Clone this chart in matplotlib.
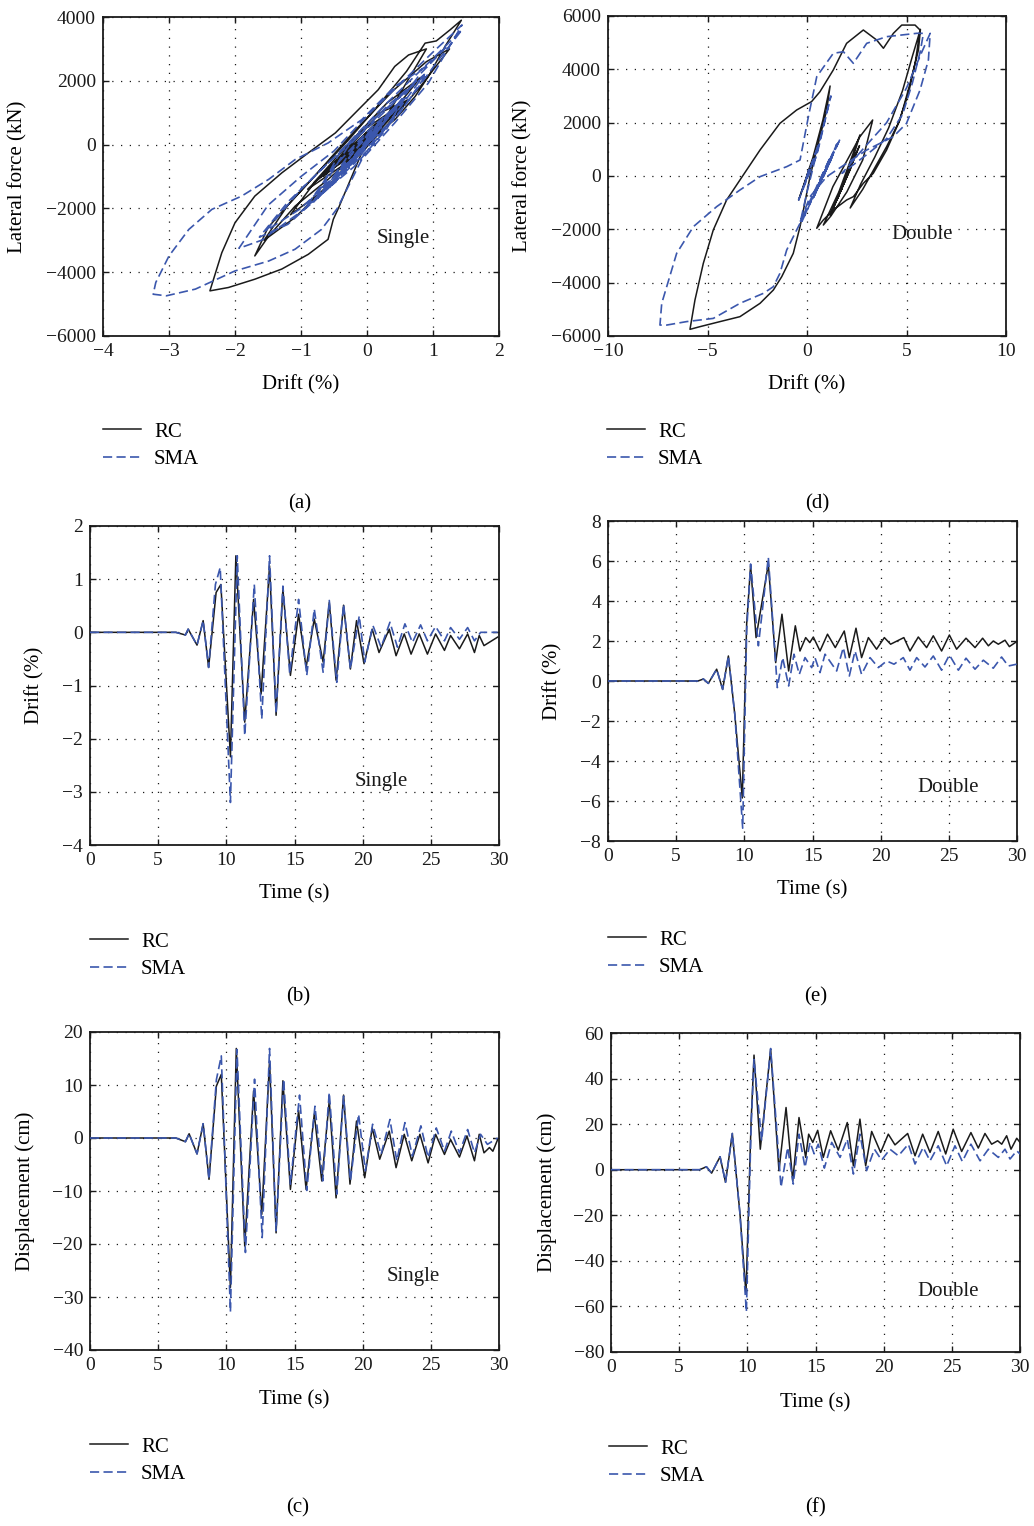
import matplotlib
matplotlib.use('Agg')
import matplotlib.pyplot as plt

plt.rcParams['font.family'] = ['Liberation Serif', 'DejaVu Serif']
plt.rcParams['font.size'] = 12

BLUE = '#3b57ad'
BLACK = '#1a1a1a'
W, H = 1034, 1526

# ---------------- (a) hysteresis, single ----------------
rc_a_drift = [0, 0.06, -0.24, 0.22, -0.66, 0.3, 0.9,
              0.63, 0.42, 0.17, -0.08, -0.48, -0.89, -1.29, -1.70, -2.0, -2.2, -2.38,
              -2.10, -1.70, -1.29, -0.89, -0.59, -0.51, -0.43, -0.08, 0.17, 0.42, 0.73, 0.93, 1.18, 1.43,
              1.26, 1.05, 0.88, 0.6, 0.2, -0.3, -0.8, -1.2, -1.5, -1.70,
              -1.49, -1.09, -0.59, -0.08, 0.3, 0.62,
              0.2, -0.3, -0.8, -1.16,
              -0.7, -0.2, 0.3, 0.8, 1.25,
              0.9, 0.4, -0.2, -0.8, -1.2, -1.56,
              -1.1, -0.5, 0.1, 0.81,
              0.3, -0.2, -0.81, -0.3, 0.34, -0.1, -0.66, -0.2, 0.25, -0.1, -0.56, 0.0, 0.56,
              0.1, -0.4, -0.9, -0.4, 0.1, 0.51, 0.0, -0.69, -0.2, 0.22, -0.2, -0.59, -0.2, 0.06,
              -0.38, 0.06, -0.44, -0.03, -0.41, -0.09]
rc_a_force = [0, 150, -550, 550, -1500, 900, 3000,
              2810, 2450, 1720, 1200, 365, -260, -885, -1615, -2450, -3390, -4585,
              -4480, -4220, -3900, -3440, -2970, -2340, -1980, -260, 365, 780, 1510, 2140, 3070, 3900,
              3600, 3250, 3180, 2300, 1300, 100, -1000, -1900, -2600, -3490,
              -2870, -1930, -1090, -160, 700, 1400,
              1000, -150, -1200, -2200,
              -1500, -500, 600, 1800, 3000,
              2600, 1700, 400, -1000, -1900, -3000,
              -2300, -1100, 300, 2100,
              1300, 200, -1200, -400, 1000, 400, -1000, -200, 700, 200, -800, 100, 1300,
              600, -400, -1400, -700, 300, 1200, 400, -1000, -300, 700, 0, -800, -200, 300,
              -500, 400, -600, 200, -500, 100]
sma_a_drift = [0, 0.06, -0.24, 0.22, -0.66, 0.3, 0.8, 1.22,
               0.93, 0.42, -0.08, -0.59, -1.09, -1.49, -1.9, -2.35, -2.7, -3.0, -3.2, -3.24,
               -3.04, -2.6, -2.0, -1.49, -1.09, -0.69, -0.45, -0.08, 0.42, 0.93, 1.2, 1.44,
               1.0, 0.5, 0.0, -0.5, -1.0, -1.5, -1.94,
               -1.6, -1.0, -0.5, 0.0, 0.5, 0.9,
               0.5, 0.0, -0.6, -1.2, -1.63,
               -1.2, -0.6, 0.0, 0.6, 1.1, 1.44,
               0.9, 0.3, -0.4, -1.0, -1.53,
               -1.0, -0.4, 0.3, 0.87, 0.3, -0.3, -0.78, -0.2, 0.3, 0.62,
               0.1, -0.4, -0.81, -0.3, 0.44, -0.2, -0.75, -0.2, 0.6, 0.0,
               -0.5, -0.94, -0.4, 0.1, 0.53, 0.0, -0.69, -0.1, 0.31, -0.2,
               -0.56, 0.13, -0.28, 0.19, -0.28, 0.15, -0.17, 0.0]
sma_a_force = [0, 150, -550, 550, -1500, 800, 2200, 3100,
               2500, 1820, 780, 50, -470, -1090, -1615, -2030, -2660, -3490, -4320, -4690,
               -4740, -4530, -3960, -3650, -3280, -2660, -2000, -470, 680, 1930, 2900, 3750,
               2900, 1900, 900, -200, -1000, -1900, -3250,
               -3000, -2100, -1200, -100, 1000, 2200,
               1500, 500, -600, -1800, -2900,
               -2500, -1400, -200, 1300, 2700, 3600,
               2500, 1300, -200, -1400, -2700,
               -2000, -800, 600, 2200, 1200, -100, -1700, -700, 500, 1700,
               800, -200, -1800, -700, 1200, -100, -1700, -400, 1500, 400,
               -700, -2000, -900, 300, 1400, 300, -1500, -300, 900, -200,
               -1300, 500, -700, 600, -700, 500, -400, 0]

# ---------------- (d) hysteresis, double ----------------
rc_d_drift = [0, 0.1, -0.12, 0.59, -0.42, 0.3, 0.8, 1.16,
              0.99, 0.57, 0.15, -0.18, -0.35, -0.69, -1.27, -1.69, -2.36, -3.37, -4.37, -5.38, -5.88,
              -5.63, -5.21, -4.71, -4.04, -3.37, -2.36, -1.36, -0.52, 0.23, 0.65, 1.32, 1.99, 2.83,
              3.5, 3.84, 4.34, 4.76, 5.43, 5.68,
              5.45, 5.1, 4.6, 4.0, 3.4, 2.8, 2.17, 2.7, 3.4, 4.1, 4.8, 5.3, 5.7,
              5.6, 5.18, 4.67, 4.0, 3.33, 2.83, 2.33, 1.99, 1.32, 0.82, 0.49,
              1.3, 2.66, 3.3, 2.8, 2.0, 1.2, 0.82, 1.6, 2.66, 2.2,
              1.5, 2.2, 1.9, 2.2, 1.5, 2.34, 1.67, 2.5, 1.17, 2.64,
              1.17, 2.17, 1.59, 2.17, 1.84, 2.17, 1.5, 2.2, 1.67, 2.26,
              1.5, 2.3, 1.59, 2.14, 1.67, 2.14, 1.8, 2.0, 1.97]
rc_d_force = [0, 250, -300, 1200, -900, 700, 2100, 3375,
              2475, 1225, -25, -1275, -1900, -2900, -3775, -4275, -4775, -5275, -5460, -5650, -5750,
              -4650, -3275, -2025, -900, -150, 975, 1975, 2475, 2790, 3160, 3975, 4975, 5475,
              5100, 4790, 5350, 5660, 5660, 5475,
              4300, 3100, 2000, 1100, 300, -500, -1200, -300, 700, 1800, 3200, 4500, 5500,
              4725, 3475, 2100, 975, 100, -275, -775, -900, -1275, -1650, -1960,
              -400, 1475, 2100, 600, -600, -1500, -1840, -600, 1540, 400,
              -900, 300, -200, 400, -900, 600, -600, 900, -1480, 1140,
              -1450, 300, -730, 300, -300, 350, -900, 400, -600, 500,
              -850, 550, -700, 250, -600, 250, -350, 0, -50]
sma_d_drift = [0, 0.1, -0.12, 0.59, -0.42, 0.5, 1.2,
               0.6, 0.0, -0.35, -0.52, -1.02, -1.36, -1.69, -2.19, -3.37, -4.71, -6.05, -7.05, -7.39,
               -7.3, -6.55, -5.71, -4.54, -3.37, -2.36, -1.02, -0.35, 0.07, 0.49, 1.32, 1.83, 2.33,
               3.0, 4.0, 5.51, 5.85,
               5.7, 5.3, 4.8, 4.0, 3.0, 1.76, 2.8, 4.0, 5.0, 5.8, 6.19,
               6.1, 5.68, 5.0, 4.34, 3.0, 1.99, 0.99, 0.15, -0.33,
               1.17, -0.25, 1.34, 0.33, 1.17, 0.67, 1.17, 0.42, 1.34, 0.5,
               1.67, 0.25, 1.5, 0.33, 1.17, 0.67, 1.0, 0.84, 1.17, 0.54,
               1.17, 0.7, 1.25, 0.54, 1.3, 0.54, 1.14, 0.59, 1.04, 0.64,
               1.2, 0.75, 0.84]
sma_d_force = [0, 250, -300, 1200, -900, 800, 3000,
               1200, -600, -1775, -2025, -2775, -3650, -4150, -4400, -4775, -5340, -5460, -5590, -5590,
               -4775, -2900, -1900, -1150, -525, -25, 350, 600, 2225, 3725, 4600, 4660, 4225,
               4975, 5225, 5350, 5350,
               4700, 3500, 2300, 1400, 800, 100, 1000, 2000, 3300, 4700, 5350,
               4350, 3225, 1975, 1475, 975, 475, -25, -775, -1700,
               700, -1700, 900, -800, 600, -200, 600, -600, 900, -500,
               1400, -900, 1200, -800, 600, -200, 300, 0, 600, -400,
               600, -100, 700, -400, 800, -400, 500, -300, 400, -200,
               600, -100, 0]

# ---------------- (b) drift time history, single ----------------
rc_b_time = [0, 6.3, 7.0, 7.2, 7.85, 8.3, 8.7, 9.25, 9.6,
             10.3, 10.7, 11.35, 12.0, 12.55, 13.17, 13.65, 14.15, 14.7,
             15.3, 15.85, 16.45, 17.1, 17.55, 18.05, 18.6, 19.1, 19.55,
             20.1, 20.7, 21.2, 21.95, 22.45, 23.05, 23.55, 24.15, 24.75,
             25.35, 26.0, 26.45, 27.1, 27.7, 28.2, 28.55, 28.9, 29.9]
rc_b_drift = [0, 0, -0.05, 0.06, -0.24, 0.22, -0.66, 0.75, 0.9,
              -2.34, 1.44, -1.69, 0.62, -1.16, 1.25, -1.56, 0.81, -0.81,
              0.34, -0.66, 0.25, -0.56, 0.56, -0.9, 0.51, -0.69, 0.22,
              -0.59, 0.06, -0.38, 0.06, -0.44, -0.03, -0.41, -0.03, -0.41,
              -0.03, -0.34, -0.06, -0.31, -0.03, -0.38, -0.06, -0.25, -0.09]
sma_b_time = [0, 6.3, 7.0, 7.2, 7.85, 8.3, 8.7, 9.2, 9.55,
              10.3, 10.8, 11.35, 12.05, 12.6, 13.17, 13.65, 14.15, 14.65,
              15.3, 15.9, 16.45, 17.1, 17.55, 18.1, 18.6, 19.1, 19.75,
              20.15, 20.75, 21.35, 22.0, 22.55, 23.1, 23.65, 24.25, 24.75,
              25.35, 26.0, 26.45, 27.1, 27.7, 28.2, 28.65, 29.9]
sma_b_drift = [0, 0, -0.05, 0.06, -0.24, 0.22, -0.66, 0.9, 1.22,
               -3.2, 1.44, -1.94, 0.9, -1.63, 1.44, -1.53, 0.87, -0.78,
               0.62, -0.81, 0.44, -0.75, 0.6, -0.94, 0.53, -0.69, 0.31,
               -0.56, 0.13, -0.28, 0.19, -0.28, 0.16, -0.19, 0.14, -0.16,
               0.11, -0.16, 0.09, -0.13, 0.09, -0.16, 0, 0]

# ---------------- (c) displacement time history, single ----------------
rc_c_time = [0, 6.3, 7.0, 7.27, 7.85, 8.3, 8.73, 9.27, 9.63,
             10.3, 10.73, 11.35, 12.0, 12.6, 13.17, 13.65, 14.15, 14.7,
             15.3, 15.85, 16.45, 17.0, 17.55, 18.05, 18.6, 19.07, 19.55,
             20.15, 20.7, 21.25, 21.95, 22.45, 23.05, 23.6, 24.2, 24.8,
             25.35, 26.0, 26.45, 27.1, 27.65, 28.2, 28.55, 28.9, 29.3, 29.55, 29.9]
rc_c_disp = [0, 0, -0.7, 0.8, -3.0, 2.7, -7.8, 9.8, 12.0,
             -28.2, 16.9, -20.4, 8.9, -14.4, 14.5, -17.9, 10.8, -9.7,
             5.2, -9.7, 4.5, -8.1, 7.0, -11.3, 8.1, -8.7, 3.2,
             -7.5, 1.9, -4.0, 1.3, -5.6, 0.7, -4.3, 0.7, -4.7,
             0.7, -3.1, -0.3, -3.6, 0.4, -4.3, 0.7, -2.8, -1.8, -2.5, -0.3]
sma_c_time = [0, 6.3, 7.0, 7.27, 7.85, 8.3, 8.73, 9.27, 9.63,
              10.3, 10.78, 11.4, 12.07, 12.63, 13.17, 13.65, 14.2, 14.7,
              15.37, 15.9, 16.5, 17.07, 17.55, 18.1, 18.6, 19.1, 19.7,
              20.2, 20.73, 21.35, 22.0, 22.5, 23.1, 23.65, 24.27, 24.8,
              25.4, 26.0, 26.5, 27.1, 27.7, 28.2, 28.65, 29.15, 29.9]
sma_c_disp = [0, 0, -0.7, 0.8, -3.0, 2.7, -7.8, 11.0, 15.5,
              -32.8, 16.7, -21.6, 11.1, -18.8, 16.9, -17.5, 11.1, -8.7,
              8.1, -9.9, 6.0, -8.1, 8.6, -10.6, 7.9, -8.1, 4.5,
              -6.2, 2.6, -3.1, 3.5, -4.3, 2.9, -3.4, 2.3, -3.7,
              1.9, -2.5, 1.3, -2.8, 1.6, -2.8, 0.7, -1.2, 0]

# ---------------- (e) drift time history, double ----------------
rc_e_time = [0, 6.6, 7.0, 7.36, 7.97, 8.41, 8.83, 9.3, 9.85, 10.17,
             10.46, 10.56, 10.86, 11.76, 12.3, 12.76, 13.25, 13.74, 14.08, 14.5,
             14.8, 15.06, 15.55, 16.1, 16.67, 17.33, 17.7, 18.19, 18.6, 19.1,
             19.7, 20.27, 20.73, 21.7, 22.15, 22.76, 23.37, 23.86, 24.47, 25.04,
             25.57, 26.26, 26.92, 27.48, 27.9, 28.26, 28.63, 29.12, 29.44, 29.98]
rc_e_drift = [0, 0, 0.1, -0.12, 0.59, -0.42, 1.25, -1.67, -5.85, 2.84,
              5.77, 4.85, 2.17, 5.85, 0.92, 3.34, 0.5, 2.76, 1.5, 2.17,
              1.92, 2.2, 1.5, 2.34, 1.67, 2.5, 1.17, 2.64, 1.17, 2.17,
              1.59, 2.17, 1.84, 2.17, 1.5, 2.2, 1.67, 2.26, 1.5, 2.3,
              1.59, 2.14, 1.67, 2.14, 1.76, 2.0, 1.84, 2.04, 1.72, 1.97]
sma_e_time = [0, 6.6, 7.0, 7.36, 7.97, 8.41, 8.83, 9.3, 9.88, 10.17,
              10.46, 11.03, 11.76, 12.42, 12.81, 13.25, 13.64, 14.03, 14.45, 14.94,
              15.18, 15.55, 15.92, 16.77, 17.26, 17.7, 18.12, 18.6, 19.22, 19.83,
              20.44, 20.98, 21.66, 22.15, 22.64, 23.25, 23.86, 24.47, 25.04, 25.7,
              26.26, 26.92, 27.53, 28.26, 28.87, 29.36, 29.98]
sma_e_drift = [0, 0, 0.1, -0.12, 0.59, -0.42, 1.25, -1.67, -7.36, 2.5,
               5.85, 1.76, 6.19, -0.33, 1.17, -0.25, 1.34, 0.33, 1.17, 0.67,
               1.17, 0.42, 1.34, 0.5, 1.67, 0.25, 1.5, 0.33, 1.17, 0.67,
               1.0, 0.84, 1.17, 0.54, 1.17, 0.7, 1.25, 0.54, 1.3, 0.54,
               1.14, 0.59, 1.04, 0.64, 1.2, 0.75, 0.84]

# ---------------- (f) displacement time history, double ----------------
rc_f_time = [0, 6.5, 7.0, 7.38, 8.0, 8.4, 8.9, 9.46, 9.9, 10.27,
             10.49, 10.95, 11.71, 12.32, 12.84, 13.33, 13.79, 14.28, 14.5, 14.8,
             15.16, 15.57, 16.11, 16.67, 17.33, 17.78, 18.26, 18.68, 19.12, 19.78,
             20.34, 20.83, 21.76, 22.3, 22.86, 23.4, 24.0, 24.55, 25.1, 25.72,
             26.4, 26.94, 27.43, 27.92, 28.36, 28.66, 29.02, 29.34, 29.76, 30.0]
rc_f_disp = [0, 0, 1.3, -1.5, 5.7, -5.5, 15.9, -19.4, -54.4, 20.0,
             50.3, 9.0, 52.8, -0.4, 27.3, -4.8, 22.9, 5.4, 15.6, 12.0,
             17.3, 5.4, 17.1, 8.6, 20.7, 1.7, 22.2, 1.7, 16.8, 7.6,
             15.6, 10.9, 15.9, 6.1, 15.6, 7.6, 16.8, 6.9, 17.8, 8.0,
             16.3, 9.5, 15.9, 11.2, 12.7, 11.2, 14.9, 9.0, 13.8, 12.0]
sma_f_time = [0, 6.5, 7.0, 7.38, 8.0, 8.4, 8.9, 9.46, 9.93, 10.27,
              10.49, 11.05, 11.71, 12.47, 12.96, 13.37, 13.79, 14.23, 14.6, 14.9,
              15.2, 15.65, 16.19, 16.8, 17.33, 17.78, 18.26, 18.75, 19.32, 19.85,
              20.46, 21.08, 21.81, 22.3, 22.9, 23.4, 24.0, 24.62, 25.23, 25.77,
              26.4, 27.07, 27.68, 28.41, 28.9, 29.27, 29.76, 30.0]
sma_f_disp = [0, 0, 1.3, -1.5, 5.7, -5.5, 15.9, -19.4, -62.4, 18.0,
              48.4, 12.7, 53.2, -7.7, 9.8, -6.3, 15.6, 1.0, 12.0, 7.0,
              11.2, 0.7, 12.0, 5.4, 13.4, -1.9, 15.6, -0.4, 9.0, 4.2,
              9.0, 6.1, 11.2, 2.5, 9.8, 3.9, 10.5, 1.7, 10.5, 3.6,
              11.2, 3.9, 9.0, 5.4, 9.0, 4.7, 8.3, 6.9]

series_labels = ['RC', 'SMA']
panel_letters = ['(a)', '(d)', '(b)', '(e)', '(c)', '(f)']

fig = plt.figure(figsize=(W / 100, H / 100), dpi=100)

TICK_FS = 14
LAB_FS = 15


def px_axes(l, t, r, b):
    return fig.add_axes([l / W, 1 - b / H, (r - l) / W, (b - t) / H])


def draw(ax, x1, y1, x2, y2, xlim, ylim, xticks, yticks, xlabel, ylabel,
         ylab_x, xlab_y, note, note_xy, leg_px, cap, cap_px):
    ax.plot(x1, y1, color=BLACK, lw=1.1, label=series_labels[0], zorder=3)
    ax.plot(x2, y2, color=BLUE, lw=1.2, ls=(0, (5.5, 2.6)), label=series_labels[1], zorder=4)
    ax.set_xlim(*xlim)
    ax.set_ylim(*ylim)
    ax.set_xticks(xticks)
    ax.set_yticks(yticks)
    ax.tick_params(direction='in', top=True, right=True, length=4, width=1.0,
                   labelsize=TICK_FS, pad=5, colors=BLACK)
    for s in ax.spines.values():
        s.set_linewidth(1.3)
        s.set_color(BLACK)
    ax.grid(True, color=BLACK, linestyle=(0, (1, 6)), linewidth=0.9)
    ax.set_axisbelow(True)
    ax.set_xlabel(xlabel, fontsize=LAB_FS, va='center')
    ax.set_ylabel(ylabel, fontsize=LAB_FS, va='center')
    ax.xaxis.set_label_coords(0.5, xlab_y)
    ax.yaxis.set_label_coords(ylab_x, 0.5)
    ax.text(note_xy[0], note_xy[1], note, transform=ax.transAxes, fontsize=LAB_FS,
            ha='center', va='center', color=BLACK)
    ax.legend(loc='upper left', bbox_to_anchor=(leg_px[0] / W, 1 - leg_px[1] / H),
              bbox_transform=fig.transFigure, frameon=False, fontsize=LAB_FS,
              handlelength=1.8, handletextpad=0.65, labelspacing=0.37,
              borderpad=0, borderaxespad=0)
    fig.text(cap_px[0] / W, 1 - cap_px[1] / H, cap, ha='center', va='center', fontsize=LAB_FS)


ax_a = px_axes(103, 17, 499, 336)
draw(ax_a, rc_a_drift, rc_a_force, sma_a_drift, sma_a_force,
     (-4, 2), (-6000, 4000), range(-4, 3), range(-6000, 4001, 2000),
     'Drift (%)', 'Lateral force (kN)', -0.215, -0.153, 'Single', (0.758, 0.307),
     (103, 422), panel_letters[0], (300, 504))

ax_d = px_axes(608, 16, 1006, 336)
draw(ax_d, rc_d_drift, rc_d_force, sma_d_drift, sma_d_force,
     (-10, 10), (-6000, 6000), range(-10, 11, 5), range(-6000, 6001, 2000),
     'Drift (%)', 'Lateral force (kN)', -0.214, -0.153, 'Double', (0.789, 0.316),
     (607, 422), panel_letters[1], (817, 504))

ax_b = px_axes(90, 526, 499, 845)
draw(ax_b, rc_b_time, rc_b_drift, sma_b_time, sma_b_drift,
     (0, 30), (-4, 2), range(0, 31, 5), range(-4, 3),
     'Time (s)', 'Drift (%)', -0.134, -0.154, 'Single', (0.711, 0.2),
     (90, 932), panel_letters[2], (298, 997))

ax_e = px_axes(608, 521, 1017, 841)
draw(ax_e, rc_e_time, rc_e_drift, sma_e_time, sma_e_drift,
     (0, 30), (-8, 8), range(0, 31, 5), range(-8, 9, 2),
     'Time (s)', 'Drift (%)', -0.134, -0.153, 'Double', (0.831, 0.166),
     (608, 930), panel_letters[3], (816, 997))

ax_c = px_axes(90, 1032, 499, 1350)
draw(ax_c, rc_c_time, rc_c_disp, sma_c_time, sma_c_disp,
     (0, 30), (-40, 20), range(0, 31, 5), range(-40, 21, 10),
     'Time (s)', 'Displacement (cm)', -0.159, -0.157, 'Single', (0.79, 0.23),
     (90, 1437), panel_letters[4], (298, 1508))

ax_f = px_axes(611, 1033, 1020, 1352)
draw(ax_f, rc_f_time, rc_f_disp, sma_f_time, sma_f_disp,
     (0, 30), (-80, 60), range(0, 31, 5), range(-80, 61, 20),
     'Time (s)', 'Displacement (cm)', -0.156, -0.16, 'Double', (0.824, 0.19),
     (609, 1439), panel_letters[5], (815, 1508))

fig.savefig('out.png', dpi=100)
